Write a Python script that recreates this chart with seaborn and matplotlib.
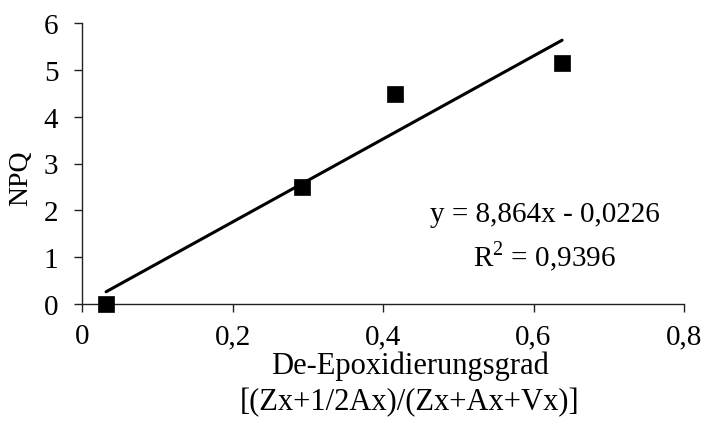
import numpy as np
import pandas as pd
import matplotlib
matplotlib.use("Agg")
import matplotlib.pyplot as plt
import seaborn as sns

# Measured data: de-epoxidation state vs. NPQ
de_epox = [0.032, 0.293, 0.416, 0.638]
npq = [0.0, 2.5, 4.48, 5.15]

# Linear regression reported on the chart
slope = 8.864
intercept = -0.0226
r_squared = 0.9396

x_ticks = [0, 0.2, 0.4, 0.6, 0.8]
x_tick_labels = ["0", "0,2", "0,4", "0,6", "0,8"]
y_ticks = [0, 1, 2, 3, 4, 5, 6]

FS = 21

sns.set_theme(style="white")
plt.rcParams["font.family"] = ["Liberation Serif", "DejaVu Serif"]
plt.rcParams["mathtext.fontset"] = "custom"
plt.rcParams["mathtext.rm"] = "Liberation Serif"

fig = plt.figure(figsize=(7.02, 4.35), dpi=100)
ax = fig.add_axes([82 / 702, 1 - 305 / 435, (684 - 82) / 702, (305 - 24) / 435])

df = pd.DataFrame({"x": de_epox, "y": npq})

# Trend line across the data range
x_fit = np.array([min(de_epox), max(de_epox)])
fit = pd.DataFrame({"x": x_fit, "y": slope * x_fit + intercept})
sns.lineplot(data=fit, x="x", y="y", ax=ax, color="black", linewidth=2.2, zorder=2)

sns.scatterplot(data=df, x="x", y="y", ax=ax, marker="s", s=130,
                color="black", edgecolor="black", linewidth=0.5, zorder=3)
for coll in ax.collections:
    coll.set_clip_on(False)

ax.set_xlim(0, 0.8)
ax.set_ylim(0, 6)
ax.set_xticks(x_ticks)
ax.set_xticklabels(x_tick_labels)
ax.set_yticks(y_ticks)

for side in ["top", "right"]:
    ax.spines[side].set_visible(False)
for side in ["left", "bottom"]:
    ax.spines[side].set_color("#222222")
    ax.spines[side].set_linewidth(1.0)

ax.tick_params(axis="both", which="major", direction="out", length=6,
               width=1.0, color="#222222", labelsize=FS, pad=11,
               bottom=True, left=True, labelcolor="black")
ax.tick_params(axis="x", pad=8)

ax.set_xlabel("De-Epoxidierungsgrad\n[(Zx+1/2Ax)/(Zx+Ax+Vx)]", fontsize=22,
              linespacing=1.3, color="black", va="center")
ax.xaxis.set_label_coords((410 - 82) / 602, (305 - 384) / 281)
ax.set_ylabel("NPQ", fontsize=20, color="black", va="center")
ax.yaxis.set_label_coords((21 - 82) / 602, (305 - 178) / 281)

eq_text = f"y = {slope:.3f}x - {abs(intercept):.4f}".replace(".", ",")
r2_text = "R$^{2}$ = " + f"{r_squared:.4f}".replace(".", ",")
ax.text(0.615, 1.92, eq_text, ha="center", va="center", fontsize=FS, color="black")
ax.text(0.615, 1.03, r2_text, ha="center", va="center", fontsize=FS, color="black")

fig.savefig("out.png", dpi=100)
